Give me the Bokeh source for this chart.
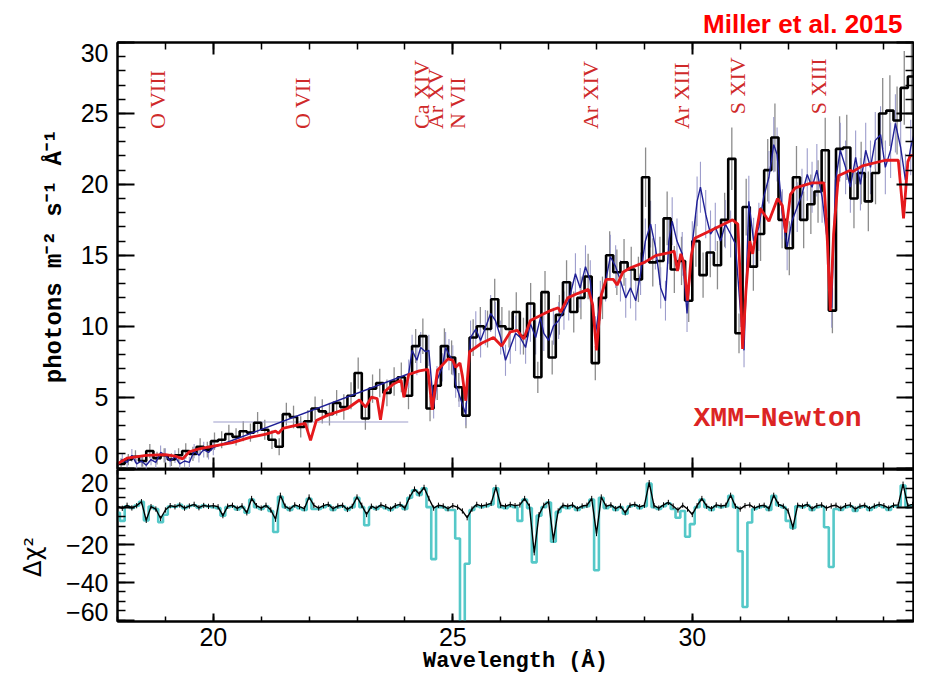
import math
from bokeh.plotting import figure
from bokeh.models import Range1d, FixedTicker, LinearAxis, Label, CustomJSTickFormatter
from bokeh.layouts import column
from bokeh.embed import file_html
from bokeh.resources import INLINE
from bokeh.core.properties import value

# ---------------- data ----------------
# black histogram, bins of BIN_W starting at BIN_START
BIN_START = 18.0
BIN_W = 0.15
BLACK_FLUX = [
    0.3, 0.6, 0.8, 0.5, 1.2, 0.7, 0.9, 0.6, 0.9, 1.2,
    1.0, 1.5, 1.3, 1.9, 2.0, 2.4, 2.2, 2.6, 2.5, 3.2,
    2.7, 2.0, 1.5, 3.8, 3.6, 2.9, 3.3, 4.2, 4.0, 3.8,
    4.6, 4.3, 5.1, 6.7, 3.5, 5.6, 6.0, 5.3, 6.1, 6.4,
    5.1, 8.6, 9.3, 4.2, 5.8, 8.6, 7.8, 5.7, 3.7, 9.2,
    10.0, 9.8, 11.9, 10.0, 9.8, 11.0, 9.3, 11.6, 6.4, 12.4,
    7.8, 10.8, 13.1, 11.0, 12.0, 13.5, 7.4, 12.0, 15.0, 13.8,
    14.5, 14.0, 13.3, 20.5, 14.5, 14.6, 17.6, 14.0, 14.6, 11.8,
    16.0, 13.6, 15.2, 14.3, 17.5, 21.8, 9.5, 18.4, 14.2, 16.5,
    21.0, 23.3, 17.5, 15.5, 20.5, 17.5, 18.6, 19.5, 22.4, 11.1,
    22.5, 22.6, 19.0, 20.8, 18.8, 20.8, 25.0, 25.2, 24.5, 26.8,
    27.6, 25.0, 19.0,
]
BLACK_ERR = [
    0.4, 0.4, 0.45, 0.4, 0.5, 0.45, 0.5, 0.45, 0.5, 0.55,
    0.5, 0.6, 0.55, 0.6, 0.6, 0.65, 0.6, 0.7, 0.65, 0.75,
    0.7, 0.65, 0.6, 0.8, 0.8, 0.75, 0.8, 0.85, 0.85, 0.8,
    0.9, 0.9, 0.95, 1.1, 0.8, 1.0, 1.0, 0.95, 1.0, 1.05,
    0.95, 1.2, 1.25, 0.9, 1.0, 1.25, 1.2, 1.0, 0.9, 1.3,
    1.35, 1.3, 1.45, 1.35, 1.3, 1.4, 1.3, 1.45, 1.1, 1.5,
    1.2, 1.4, 1.55, 1.45, 1.5, 1.6, 1.2, 1.5, 1.7, 1.6,
    1.65, 1.6, 1.6, 2.1, 1.7, 1.7, 1.9, 1.65, 1.7, 1.5,
    1.8, 1.6, 1.75, 1.7, 1.9, 2.2, 1.4, 2.0, 1.7, 1.9,
    2.2, 2.4, 2.0, 1.9, 2.2, 2.0, 2.1, 2.2, 2.3, 1.6,
    2.3, 2.3, 2.1, 2.2, 2.1, 2.2, 2.5, 2.5, 2.4, 2.6,
    2.7, 2.5, 2.1,
]

# blue data set
BLUE_WL = [
    18.0, 18.1, 18.2, 18.3, 18.4, 18.5, 18.6, 18.7, 18.8, 18.9, 19.0,
    19.1, 19.2, 19.3, 19.4, 19.5, 19.6, 19.7, 19.8, 19.9, 20.0,
    24.08, 24.15, 24.25, 24.33, 24.43, 24.5, 24.6, 24.67, 24.78, 24.85,
    24.92, 25.0, 25.06, 25.13, 25.2, 25.27,
    25.37, 25.48, 25.58, 25.68, 25.79, 25.89, 26.0, 26.1, 26.2, 26.31,
    26.41, 26.52, 26.62, 26.73, 26.83, 26.9, 27.0, 27.1, 27.21, 27.32, 27.42,
    27.56, 27.66, 27.77, 27.87, 27.98, 28.08, 28.19, 28.29, 28.4, 28.5,
    28.61, 28.71, 28.82, 28.92, 29.02, 29.13, 29.23, 29.34, 29.44, 29.51,
    29.58, 29.68, 29.79, 29.89,
    30.0, 30.1, 30.17, 30.28, 30.38, 30.48, 30.59, 30.69, 30.8, 30.9,
    31.0, 31.08, 31.18, 31.28, 31.39, 31.49, 31.6, 31.7, 31.77,
    31.88, 31.98, 32.08, 32.19, 32.29, 32.4, 32.5, 32.6, 32.71, 32.82,
    32.91, 32.99, 33.09, 33.2, 33.3, 33.41, 33.51, 33.62, 33.72, 33.82,
    33.93, 34.03, 34.14, 34.24, 34.35, 34.45, 34.56, 34.66, 34.76, 34.87,
]
BLUE_FLUX = [
    0.2, 0.6, 0.4, 0.9, 0.3, 0.5, 0.2, 0.6, 0.4, 1.1, 0.9,
    0.5, 0.8, 0.3, 0.5, 0.4, 1.2, 0.9, 1.3, 1.1, 1.45,
    6.65, 8.3, 7.6, 8.5, 8.2, 8.3, 4.3, 6.2, 7.1, 8.5,
    8.0, 7.6, 5.9, 5.2, 4.5, 3.8,
    9.2, 9.8, 9.0, 9.9, 10.9, 10.4, 9.2, 7.6, 8.5, 9.5,
    9.2, 8.5, 10.2, 9.2, 10.6, 9.5, 9.0, 10.0, 10.4, 11.1, 11.8,
    13.7, 12.7, 14.2, 13.2, 9.5, 11.8, 13.2, 14.9, 14.2, 13.2,
    12.0, 12.7, 11.8, 13.7, 16.0, 17.2, 15.6, 12.7, 11.8, 16.0,
    17.4, 16.0, 15.1, 10.9,
    15.8, 18.8, 19.8, 17.9, 16.5, 17.0, 16.0, 17.2, 16.5, 15.8,
    11.3, 8.3, 18.8, 16.0, 17.0, 19.1, 20.5, 22.8, 22.1,
    17.9, 15.6, 17.4, 18.4, 19.3, 20.7, 19.8, 21.0, 19.1, 16.0,
    11.3, 20.3, 22.4, 21.2, 19.8, 21.9, 20.0, 22.4, 21.2, 23.1,
    23.5, 21.2, 22.4, 24.3, 22.6, 20.3, 22.6, 24.0, 23.1, 23.5,
]
BLUE_ERR = [
    0.35, 0.4, 0.4, 0.45, 0.35, 0.4, 0.35, 0.4, 0.4, 0.5, 0.5,
    0.4, 0.45, 0.35, 0.4, 0.4, 0.5, 0.5, 0.55, 0.5, 0.55,
    1.0, 1.1, 1.05, 1.1, 1.1, 1.1, 0.8, 1.0, 1.0, 1.1,
    1.1, 1.05, 0.95, 0.9, 0.85, 0.8,
    1.2, 1.25, 1.2, 1.25, 1.3, 1.3, 1.2, 1.1, 1.15, 1.25,
    1.2, 1.15, 1.3, 1.2, 1.3, 1.25, 1.2, 1.3, 1.3, 1.35, 1.4,
    1.45, 1.4, 1.5, 1.45, 1.2, 1.4, 1.45, 1.55, 1.5, 1.45,
    1.4, 1.45, 1.4, 1.5, 1.6, 1.65, 1.6, 1.45, 1.4, 1.6,
    1.7, 1.6, 1.55, 1.3,
    1.6, 1.75, 1.8, 1.7, 1.65, 1.7, 1.6, 1.7, 1.65, 1.6,
    1.35, 1.2, 1.8, 1.65, 1.7, 1.8, 1.85, 1.95, 1.9,
    1.75, 1.65, 1.7, 1.75, 1.8, 1.85, 1.8, 1.85, 1.8, 1.65,
    1.4, 1.85, 1.95, 1.9, 1.8, 1.9, 1.85, 1.95, 1.9, 2.0,
    2.0, 1.9, 1.95, 2.05, 1.95, 1.85, 1.95, 2.0, 2.0, 2.0,
]
# wide bin spanning the chip gap (x extent and flux)
GAP_LO, GAP_HI, GAP_FLUX = 20.0, 24.07, 3.25

# red model
MODEL_WL = [
    18.0, 18.2, 18.6, 19.0, 19.2, 19.36, 19.5, 19.7, 20.0, 20.4,
    20.75, 21.1, 21.3, 21.36, 21.45, 21.7, 21.92, 22.03, 22.15, 22.4,
    22.8, 23.05, 23.18, 23.3, 23.42, 23.49, 23.58, 23.75, 23.92, 23.98,
    24.08, 24.3, 24.48, 24.57, 24.68, 24.9, 25.0, 25.06, 25.15, 25.2,
    25.27, 25.35, 25.6, 25.85, 26.02, 26.2, 26.35, 26.48, 26.62, 27.04,
    27.2, 27.25, 27.4, 27.6, 27.83, 27.92, 28.0, 28.1, 28.2, 28.35,
    28.43, 28.55, 28.7, 29.0, 29.25, 29.55, 29.62, 29.69, 29.76, 29.82,
    29.9, 29.98, 30.05, 30.3, 30.6, 30.84, 30.95, 31.0, 31.05, 31.12,
    31.2, 31.26, 31.42, 31.6, 31.78, 31.88, 31.95, 32.05, 32.15, 32.5,
    32.75, 32.82, 32.88, 32.95, 33.05, 33.3, 33.35, 33.55, 34.03, 34.3,
    34.41, 34.5, 34.55, 34.87,
]
MODEL_FLUX = [
    0.3, 0.7, 0.9, 0.95, 0.85, 0.65, 1.15, 1.35, 1.55, 1.8,
    2.15, 2.4, 2.6, 2.45, 2.8, 3.0, 3.15, 1.95, 3.35, 3.75,
    4.2, 4.8, 4.3, 5.0, 4.9, 3.4, 5.4, 5.9, 6.2, 5.0,
    6.6, 6.85, 6.95, 4.1, 6.9, 7.7, 7.6, 7.1, 7.4, 6.5,
    4.75, 8.2, 8.8, 9.2, 8.6, 9.6, 9.7, 9.1, 10.4, 11.1,
    11.3, 11.0, 12.0, 12.3, 12.6, 11.5, 8.3, 12.2, 13.3, 13.3,
    12.9, 13.8, 14.1, 14.5, 15.0, 15.2, 15.3, 13.9, 15.1, 14.5,
    11.8, 15.0, 16.2, 16.6, 17.1, 17.5, 17.2, 13.5, 8.4, 12.5,
    16.0, 15.1, 18.3, 17.4, 19.0, 18.5, 16.6, 19.3, 19.75, 20.1,
    20.1, 16.0, 11.1, 16.5, 20.6, 21.0, 20.9, 21.3, 21.7, 21.7,
    17.6, 21.6, 22.0, 22.2,
]

# residuals, sampled every RES_STEP from RES_START
RES_START = 18.0
RES_STEP = 0.1
RES_BLACK = [
    0.5, -0.6, 1.0, -0.4, 0.8, 2.9, -7.0, 0.3, -1.0, -6.0,
    -1.5, 0.8, 0.2, 1.2, -0.5, 0.6, 1.5, -0.3, 0.9, 0.4,
    0.8, 0.2, -4.5, 0.5, 1.0, -0.6, 0.7, -3.0, 4.6, 0.8,
    -0.5, 1.0, -1.5, -6.4, 6.3, 0.5, -1.0, 1.2, 0.3, -0.8,
    5.4, 1.0, -0.5, 0.8, 1.5, -0.8, 0.6, 1.0, -1.2, 0.4,
    5.4, 1.0, -3.9, 0.5, -0.6, 1.2, 0.3, -1.0, 0.8, 1.5,
    -0.5, 5.4, 9.6, 7.0, 10.5, 4.6, -0.5, 1.0, 0.6, -0.8,
    0.8, 0.0, -2.0, -5.6, -1.0, 1.5, 0.6, 1.2, 2.0, 10.5,
    1.0, 0.5, 1.5, 0.8, 1.2, 4.6, 0.5, -24.2, -4.0, 1.0,
    2.9, -17.4, -2.0, 1.0, 0.5, 1.2, -0.8, 0.6, 1.0, 4.6,
    -14.0, 5.4, 0.5, 1.2, -0.8, 0.6, -3.0, 1.0, 1.5, 0.2,
    1.0, 13.0, 0.8, -0.5, 1.2, 2.5, 0.6, -1.5, 1.0, -1.0,
    -3.9, 0.8, 4.6, 0.5, -0.8, 1.2, 0.6, 1.0, 6.3, 0.5,
    -1.0, 0.8, 1.2, -0.5, 0.6, 1.0, -0.8, 6.3, 1.5, 0.5,
    -2.0, -10.7, 1.0, 0.5, 1.5, -0.8, 0.8, 1.2, -0.5, 0.6,
    1.0, -0.6, 0.8, 1.2, -1.0, 0.5, 1.0, -0.8, 0.6, 1.5,
    0.8, -0.5, 1.0, 1.2, 12.2, 0.8, 1.5, 5.4, -0.5, -4.7,
]
RES_CYAN = [
    -3.0, -7.3, 0.5, -0.4, 0.8, 2.9, -7.0, 0.3, -1.0, -8.0,
    -4.0, 0.3, 0.2, 1.2, -0.5, 0.6, 1.0, -0.3, 0.9, 0.4,
    0.0, -0.5, -4.5, 0.0, 0.5, -1.2, 0.0, -3.0, 4.0, 0.0,
    -1.0, 0.5, -2.0, -13.2, 5.5, 0.0, -1.5, 0.5, -0.5, -1.5,
    4.5, -1.0, -1.0, 0.0, 1.0, -1.5, 0.0, 0.5, -1.5, 0.0,
    5.0, 0.0, -9.6, 0.0, -1.0, 0.5, -0.5, -1.5, 0.0, 1.0,
    -1.0, 5.0, 9.0, 6.5, 10.0, 0.0, -27.6, 0.0, 0.0, -1.5,
    -1.5, -16.6, -64.0, -30.0, -1.5, 0.5, 0.0, 0.5, 1.5, 10.0,
    0.0, -0.5, 0.5, 0.0, -7.3, 4.0, -0.5, -29.3, -4.5, 0.0,
    2.5, -18.3, -2.5, 0.0, -0.5, 0.5, -1.5, 0.0, 0.5, 4.0,
    -33.5, 5.0, -0.5, 0.5, -1.5, 0.0, -3.5, 0.5, 1.0, -0.5,
    0.5, 12.5, 0.0, -1.0, 0.5, 2.0, -1.0, -5.6, -2.0, -15.7,
    -9.0, 0.0, 4.0, 0.0, -1.5, 0.5, 0.0, 0.5, 6.0, 0.0,
    -23.4, -53.0, -8.1, -1.0, 0.0, 0.5, -1.5, 6.0, 1.0, 0.0,
    -7.3, -11.0, 0.5, 0.0, 1.0, -1.5, 0.0, 0.5, -10.7, -31.8,
    -1.0, -1.5, 0.0, 0.5, -2.0, 0.0, 0.5, -1.5, 0.0, 1.0,
    0.0, -1.5, 0.5, 0.5, 11.5, 0.0, 1.0, 5.0, -1.5, -5.0,
]
RES_ERR = 1.4

# line identifications
LINE_NAMES = ["O VIII", "O VII", "Ca XIV", "Ar XV", "N VII",
              "Ar XIV", "Ar XIII", "S XIV", "S XIII"]
LINE_WL = [18.835, 21.86, 24.35, 24.64, 25.10, 27.87, 29.77, 30.94, 32.63]

# tick labels
X_TICKS = [20, 25, 30]
TOP_Y_TICKS = [0, 5, 10, 15, 20, 25, 30]
BOT_Y_TICKS = [-60, -40, -20, 0, 20]

# ---------------- layout constants ----------------
W = 914
LEFT, RIGHT = 117, 1                  # frame borders (px)
TOP_BORDER, TOP_FRAME = 42, 427       # top panel: border above, frame height
BOT_FRAME, BOT_BORDER = 152, 61       # residual panel: frame height, border below
PX_PER_A = 47.9
X_START = 18.0
X_END = X_START + (W - LEFT - RIGHT) / PX_PER_A
TOP_RANGE = (-0.1, 30.0)
BOT_RANGE = (-60.7, 20.0)
# where the tick labels sit (extreme labels nudged inwards, as in the original)
TOP_LABEL_POS = [0.9, 5, 10, 15, 20, 25, 29.25]
BOT_LABEL_POS = [-55.4, -40, -20, 0, 13.1]
LINE_LABEL_Y = [23.9, 23.9, 23.9, 23.9, 23.9, 23.9, 23.9, 24.95, 24.95]
TICK_FONT = "Liberation Sans"
TICK_SIZE = "25px"

X_RANGE = Range1d(X_START, X_END)


def make_fig(h, yr, top_b, bot_b, title=None):
    f = figure(width=W, height=h, x_range=X_RANGE, y_range=Range1d(*yr),
               output_backend="svg", toolbar_location=None, title=title,
               x_axis_location=None, y_axis_location=None,
               min_border_left=LEFT, min_border_right=RIGHT,
               min_border_top=top_b, min_border_bottom=bot_b)
    f.grid.visible = False
    f.outline_line_color = "black"
    f.outline_line_width = 2
    f.background_fill_color = "white"
    f.border_fill_color = "white"
    return f


def tick_axis(fig, side, ticks, minor, tin, tmin):
    ax = LinearAxis(ticker=FixedTicker(ticks=ticks, minor_ticks=minor),
                    major_tick_in=tin, major_tick_out=0,
                    minor_tick_in=tmin, minor_tick_out=0,
                    axis_line_width=2, axis_line_color="black",
                    major_tick_line_width=2, minor_tick_line_width=1.5,
                    major_tick_line_color="black", minor_tick_line_color="black",
                    major_label_text_font_size="0px", major_label_text_color=None,
                    major_label_standoff=0)
    fig.add_layout(ax, side)
    return ax


def label_axis(fig, side, positions, labels, standoff, title):
    ax = LinearAxis(ticker=FixedTicker(ticks=positions, minor_ticks=[]),
                    formatter=CustomJSTickFormatter(args=dict(labels=labels),
                                                    code="return labels[index];"),
                    major_tick_in=0, major_tick_out=0, minor_tick_in=0, minor_tick_out=0,
                    axis_line_color=None, major_tick_line_color=None,
                    minor_tick_line_color=None,
                    major_label_text_font=TICK_FONT,
                    major_label_text_font_size=TICK_SIZE,
                    major_label_text_color="black",
                    major_label_standoff=standoff,
                    axis_label=title,
                    axis_label_text_color="black")
    fig.add_layout(ax, side)
    return ax


X_MINOR = list(range(18, 36))

# ---------------- top panel ----------------
top = make_fig(TOP_BORDER + TOP_FRAME, TOP_RANGE, TOP_BORDER, 0,
               title="Miller et al. 2015")
top.title.align = "right"
top.title.text_font = "Liberation Sans"
top.title.text_font_style = "bold"
top.title.text_font_size = "26px"
top.title.text_color = "#ff0000"
top.title.offset = 11
top.title.standoff = 8

tick_axis(top, "below", X_TICKS, X_MINOR, 12, 7)
tick_axis(top, "above", X_TICKS, X_MINOR, 12, 7)
tick_axis(top, "left", TOP_Y_TICKS, list(range(0, 31)), 17, 8)
tick_axis(top, "right", TOP_Y_TICKS, list(range(0, 31)), 17, 8)
yl = label_axis(top, "left", TOP_LABEL_POS, [str(t) for t in TOP_Y_TICKS], 9,
                "photons m⁻² s⁻¹ Å⁻¹")
yl.axis_label_text_font = "Liberation Mono"
yl.axis_label_text_font_style = "bold"
yl.axis_label_text_font_size = "24px"
yl.axis_label_standoff = 10

edges = [BIN_START + BIN_W * i for i in range(len(BLACK_FLUX) + 1)]
centers = [BIN_START + BIN_W * (i + 0.5) for i in range(len(BLACK_FLUX))]

n = min(len(centers), len(BLACK_ERR))
top.segment(x0=centers[:n], x1=centers[:n],
            y0=[BLACK_FLUX[i] - BLACK_ERR[i] for i in range(n)],
            y1=[BLACK_FLUX[i] + BLACK_ERR[i] for i in range(n)],
            line_color="#8c8c8c", line_width=1.3)
m = min(len(BLUE_WL), len(BLUE_ERR), len(BLUE_FLUX))
top.segment(x0=BLUE_WL[:m], x1=BLUE_WL[:m],
            y0=[BLUE_FLUX[i] - BLUE_ERR[i] for i in range(m)],
            y1=[BLUE_FLUX[i] + BLUE_ERR[i] for i in range(m)],
            line_color="#9d9dcc", line_width=1.1)
top.segment(x0=[GAP_LO], x1=[GAP_HI], y0=[GAP_FLUX], y1=[GAP_FLUX],
            line_color="#9d9dcc", line_width=1.2)

top.step(x=edges, y=BLACK_FLUX + [BLACK_FLUX[-1]], mode="after",
         line_color="black", line_width=2.6)
top.line(x=BLUE_WL, y=BLUE_FLUX, line_color="#1f1f96", line_width=1.4)
top.line(x=MODEL_WL, y=MODEL_FLUX, line_color="#e5191c", line_width=2.8)

top.text(x=LINE_WL, y=LINE_LABEL_Y, text=LINE_NAMES, angle=math.pi / 2,
         text_align="left", text_baseline="middle",
         text_font=value("Liberation Serif"), text_font_size="22px",
         text_color="#cf2a2a")

top.add_layout(Label(x=31.78, y=3.5, text="XMM−Newton", text_align="center",
                     text_baseline="middle", text_font="Liberation Mono",
                     text_font_style="bold", text_font_size="28px",
                     text_color="#dc2424"))

# ---------------- bottom panel ----------------
bot = make_fig(BOT_FRAME + BOT_BORDER, BOT_RANGE, 0, BOT_BORDER)
RES_MINOR = list(range(-60, 21, 5))
tick_axis(bot, "below", X_TICKS, X_MINOR, 8, 5)
tick_axis(bot, "above", X_TICKS, X_MINOR, 8, 5)
tick_axis(bot, "left", BOT_Y_TICKS, RES_MINOR, 17, 8)
tick_axis(bot, "right", BOT_Y_TICKS, RES_MINOR, 17, 8)
xl = label_axis(bot, "below", X_TICKS, [str(t) for t in X_TICKS], 6, "Wavelength (Å)")
xl.axis_label_text_font = "Liberation Mono"
xl.axis_label_text_font_style = "bold"
xl.axis_label_text_font_size = "22px"
xl.axis_label_standoff = 0
bl = label_axis(bot, "left", BOT_LABEL_POS,
                [str(t).replace("-", "−") for t in BOT_Y_TICKS], 9,
                "Δχ²\u00a0\u00a0\u00a0")
bl.axis_label_text_font = "DejaVu Sans"
bl.axis_label_text_font_style = "normal"
bl.axis_label_text_font_size = "24px"
bl.axis_label_standoff = 16

res_wl = [round(RES_START + RES_STEP * j, 3) for j in range(len(RES_BLACK))]
res_wl_c = [round(RES_START + RES_STEP * j, 3) for j in range(len(RES_CYAN))]
bot.step(x=res_wl_c, y=RES_CYAN, mode="center", line_color="#55c8c8", line_width=2.6)
bot.segment(x0=res_wl, x1=res_wl, y0=[v - RES_ERR for v in RES_BLACK],
            y1=[v + RES_ERR for v in RES_BLACK], line_color="black", line_width=1)
bot.line(x=res_wl, y=RES_BLACK, line_color="black", line_width=1.4)

layout = column(top, bot)
open("out.html", "w").write(file_html(layout, INLINE))
